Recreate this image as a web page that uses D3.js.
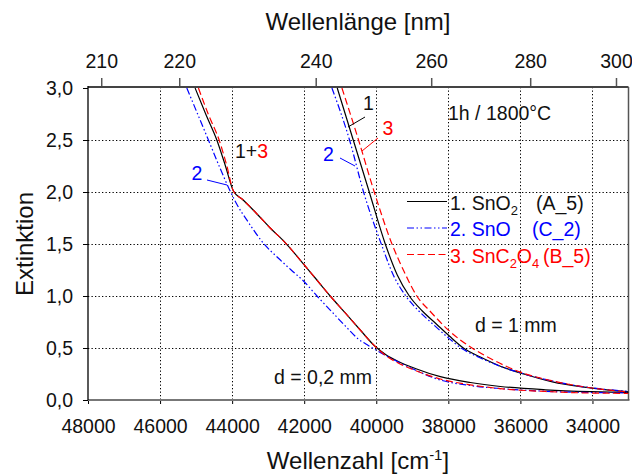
<!DOCTYPE html>
<html><head><meta charset="utf-8">
<script src="https://cdn.jsdelivr.net/npm/d3@7/dist/d3.min.js"></script>
<style>
body{margin:0;background:#fff;}
text{font-family:"Liberation Sans",Arial,sans-serif;}
</style></head>
<body><svg id="c" width="632" height="476"></svg>
<script>
// ---- data ----
const wavenumberTicks = [48000,46000,44000,42000,40000,38000,36000,34000];
const extinctionTicks = [0,0.5,1.0,1.5,2.0,2.5,3.0];
const wavelengthTicks = [210,220,240,260,280,300];

// d = 0,2 mm  [wavenumber cm-1, extinction]
const sno2_d02 = [[45028,3.000],[44722,2.740],[44425,2.500],[44194,2.260],[43964,2.010],[43694,1.923],[43361,1.808],[42944,1.654],[42528,1.514],[42111,1.346],[41694,1.173],[41278,1.000],[40861,0.837],[40444,0.673],[40028,0.514],[39722,0.433],[39417,0.375],[38917,0.303],[38222,0.224],[37389,0.168],[36556,0.130],[35306,0.098],[34056,0.080],[33000,0.072]];
const sno_d02 = [[45258,3.000],[44958,2.750],[44658,2.500],[44361,2.250],[44056,2.010],[43889,1.894],[43556,1.712],[43131,1.507],[42722,1.365],[42361,1.250],[41992,1.135],[41647,1.000],[41278,0.865],[40861,0.712],[40500,0.587],[40222,0.524],[39889,0.457],[39417,0.370],[38917,0.288],[38222,0.192],[37389,0.139],[36556,0.110],[35306,0.084],[34056,0.072],[33000,0.069]];
const snc2o4_d02 = [[44936,3.000],[44653,2.740],[44361,2.500],[44153,2.260],[43964,2.010],[43694,1.923],[43361,1.808],[42944,1.654],[42528,1.514],[42111,1.346],[41694,1.173],[41278,1.000],[40861,0.837],[40444,0.673],[40028,0.514],[39722,0.423],[39417,0.360],[38917,0.284],[38222,0.202],[37389,0.146],[36556,0.109],[35306,0.082],[34056,0.067],[33000,0.064]];

// d = 1 mm
const sno2_d1 = [[41083,3.000],[40639,2.500],[40194,2.000],[39750,1.500],[39417,1.202],[39083,1.000],[38722,0.856],[38333,0.731],[37972,0.615],[37583,0.500],[37111,0.413],[36556,0.325],[35861,0.245],[35111,0.175],[34333,0.128],[33667,0.099],[33000,0.079]];
const sno_d1 = [[41231,3.000],[40742,2.500],[40353,2.000],[39861,1.500],[39528,1.202],[39181,1.000],[38806,0.851],[38417,0.726],[38028,0.606],[37625,0.495],[37139,0.409],[36583,0.327],[35889,0.250],[35111,0.183],[34333,0.131],[33667,0.103],[33000,0.084]];
const snc2o4_d1 = [[40953,3.000],[40492,2.500],[40056,2.000],[39564,1.500],[39222,1.231],[38875,1.000],[38500,0.851],[38000,0.673],[37667,0.577],[37342,0.500],[36833,0.399],[36000,0.268],[35167,0.188],[34333,0.132],[33667,0.100],[33000,0.078]];

// ---- layout ----
const svg = d3.select("#c");
const L = 88, R = 628.5, T = 87, B = 400;
const x = d3.scaleLinear().domain([48000, 33000]).range([L, R]);
const y = d3.scaleLinear().domain([0, 3.0]).range([B, 88]);
const fmtY = d => d3.format(".1f")(d).replace(".", ",");

svg.append("defs").append("clipPath").attr("id","clip")
  .append("rect").attr("x",L).attr("y",T).attr("width",R-L).attr("height",B-T);

// grid
const grid = svg.append("g").attr("stroke","#000").attr("stroke-width",1).attr("stroke-dasharray","1.3,2.2");
grid.selectAll("line.v").data(wavenumberTicks.filter(d=>d<48000)).join("line").attr("class","v")
  .attr("x1",d=>Math.round(x(d))+0.5).attr("x2",d=>Math.round(x(d))+0.5).attr("y1",T).attr("y2",B);
grid.selectAll("line.h").data(extinctionTicks.filter(d=>d>0&&d<3)).join("line").attr("class","h")
  .attr("x1",L).attr("x2",R).attr("y1",d=>Math.round(y(d))+0.5).attr("y2",d=>Math.round(y(d))+0.5);

// axes
const xAxis = svg.append("g").attr("transform",`translate(0,${B})`)
  .call(d3.axisBottom(x).tickValues(wavenumberTicks).tickSize(4).tickSizeOuter(0).tickPadding(15).tickFormat(d3.format("d")));
xAxis.select(".domain").remove();
xAxis.selectAll("text").attr("font-size","19.5px").attr("fill","#111").attr("font-family","Liberation Sans, Arial, sans-serif");
xAxis.selectAll("line").attr("stroke","#000");

const yAxis = svg.append("g").attr("transform",`translate(${L},0)`)
  .call(d3.axisLeft(y).tickValues(extinctionTicks).tickSize(5).tickSizeOuter(0).tickPadding(10).tickFormat(fmtY));
yAxis.select(".domain").remove();
yAxis.selectAll("text").attr("font-size","19.5px").attr("fill","#111").attr("font-family","Liberation Sans, Arial, sans-serif");

// top axis (wavelength)
const topAxis = svg.append("g");
topAxis.selectAll("line").data(wavelengthTicks).join("line")
  .attr("x1",d=>x(1e7/d)).attr("x2",d=>x(1e7/d)).attr("y1",T-9).attr("y2",T)
  .attr("stroke","#555").attr("stroke-width",1.5);
topAxis.selectAll("text").data(wavelengthTicks).join("text")
  .attr("x",d=>x(1e7/d)).attr("y",68).attr("text-anchor","middle")
  .attr("font-size","19.5px").attr("fill","#111").text(d=>d);

// frame
svg.append("line").attr("x1",L).attr("x2",R).attr("y1",T).attr("y2",T).attr("stroke","#444").attr("stroke-width",2);
svg.append("line").attr("x1",L).attr("x2",R+1).attr("y1",B).attr("y2",B).attr("stroke","#777").attr("stroke-width",2);
svg.append("line").attr("x1",R).attr("x2",R).attr("y1",T).attr("y2",B).attr("stroke","#555").attr("stroke-width",1.5);
svg.append("line").attr("x1",L).attr("x2",L).attr("y1",T-1).attr("y2",B).attr("stroke","#000").attr("stroke-width",1.3);

// curves
const line = d3.line().x(d=>x(d[0])).y(d=>y(d[1])).curve(d3.curveMonotoneX);
const styles = {
  black:{stroke:"#000", dash:null},
  blue:{stroke:"#0000ff", dash:"7,2.5,1.5,2.5,1.5,2.5"},
  red:{stroke:"#ff0000", dash:"7,3.5"}
};
const curves = [
  [sno2_d02,"black"],[sno_d02,"blue"],[snc2o4_d02,"red"],
  [sno2_d1,"black"],[sno_d1,"blue"],[snc2o4_d1,"red"]
];
const cg = svg.append("g").attr("clip-path","url(#clip)");
curves.forEach(([data,s])=>{
  cg.append("path").datum(data).attr("d",line).attr("fill","none")
    .attr("stroke",styles[s].stroke).attr("stroke-width",1.2)
    .attr("stroke-dasharray",styles[s].dash);
});

// annotations
function txt(xp, yp, str, color, size){
  return svg.append("text").attr("x",xp).attr("y",yp).attr("fill",color||"#111")
    .attr("font-size",(size||19.5)+"px").text(str);
}
txt(448,120,"1h / 1800°C");
txt(475,332,"d = 1 mm");
txt(274,384,"d = 0,2 mm");
const t13 = svg.append("text").attr("x",235).attr("y",158).attr("font-size","19.5px");
t13.append("tspan").attr("fill","#111").text("1+");
t13.append("tspan").attr("fill","#ff0000").text("3");
txt(191.5,180,"2","#0000ff");
txt(323,161,"2","#0000ff");
txt(363,110,"1","#111");
txt(382.5,135,"3","#ff0000");
const ptr = [[207,180,227,185,"#0000ff"],[340,158,355,166,"#0000ff"],[365,117,348,127,"#000"],[378,138,362,151,"#ff0000"]];
ptr.forEach(p=>svg.append("line").attr("x1",p[0]).attr("y1",p[1]).attr("x2",p[2]).attr("y2",p[3]).attr("stroke",p[4]).attr("stroke-width",1));

// legend
const legend = [
  {s:"black", parts:[["1. SnO",0],["2",1]], code:"(A_5)", cx:536, color:"#111"},
  {s:"blue", parts:[["2. SnO",0]], code:"(C_2)", cx:532, color:"#0000ff"},
  {s:"red", parts:[["3. SnC",0],["2",1],["O",0],["4",1]], code:"(B_5)", cx:543, color:"#ff0000"}
];
legend.forEach((e,i)=>{
  const by = 209.5 + i*26.5;
  svg.append("line").attr("x1",407).attr("x2",447).attr("y1",by-8).attr("y2",by-8)
    .attr("stroke",styles[e.s].stroke).attr("stroke-width",1.2).attr("stroke-dasharray",styles[e.s].dash);
  const t = svg.append("text").attr("x",450).attr("y",by).attr("fill",e.color).attr("font-size","19.5px");
  e.parts.forEach(([s,sub])=>{
    if(sub) t.append("tspan").attr("font-size","13px").attr("y",by+5).text(s);
    else t.append("tspan").attr("y",by).text(s);
  });
  svg.append("text").attr("x",e.cx).attr("y",by).attr("fill",e.color).attr("font-size","19.5px").text(e.code);
});

// axis titles
svg.append("text").attr("x",358).attr("y",30).attr("text-anchor","middle").attr("font-size","24px").attr("fill","#111").text("Wellenlänge [nm]");
const xt = svg.append("text").attr("x",358).attr("y",469).attr("text-anchor","middle").attr("font-size","24px").attr("fill","#111");
xt.append("tspan").text("Wellenzahl [cm");
xt.append("tspan").attr("font-size","15px").attr("dy",-9).text("-1");
xt.append("tspan").attr("dy",9).text("]");
svg.append("text").attr("transform","translate(33,244) rotate(-90)").attr("text-anchor","middle").attr("font-size","24px").attr("fill","#111").text("Extinktion");
</script></body></html>
